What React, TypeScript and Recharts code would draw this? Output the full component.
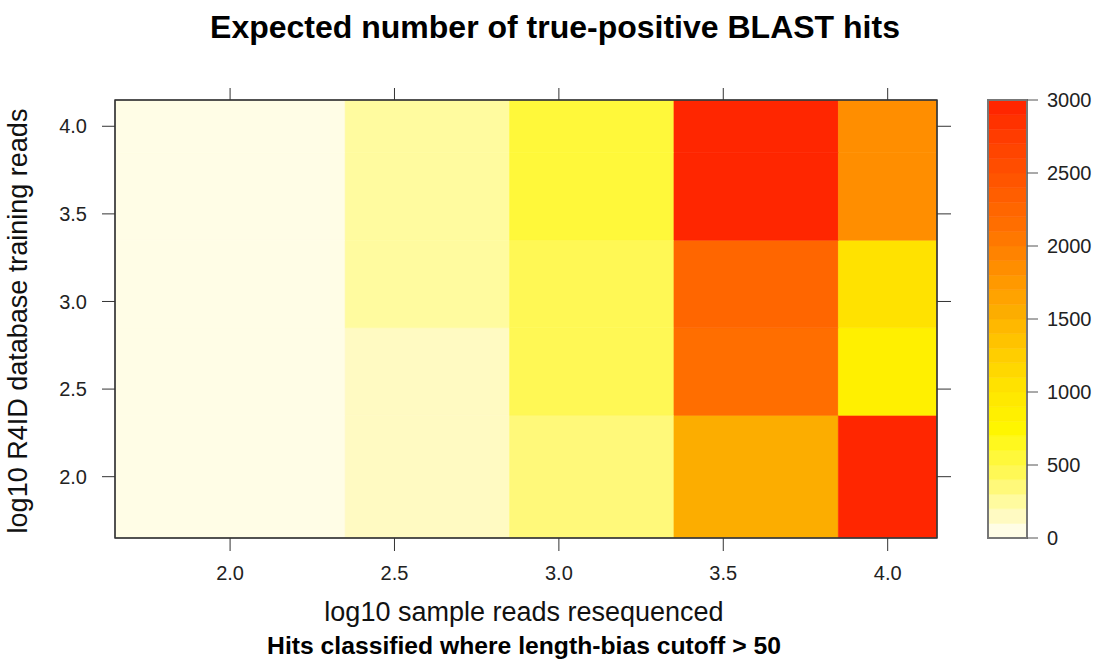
import React from 'react';
import { ComposedChart, XAxis, YAxis, ReferenceArea, Scatter } from 'recharts';

// log10 sample reads resequenced (cell centres along x)
const xValues = [2.0, 2.7, 3.0, 3.7, 4.0];
// log10 R4ID database training reads (cell centres along y)
const yValues = [2.0, 2.7, 3.0, 3.7, 4.0];

// expected true-positive hits, one array per y row (values follow xValues)
const hitsAtY20 = [50, 150, 350, 1550, 2950];
const hitsAtY27 = [50, 150, 450, 2180, 850];
const hitsAtY30 = [50, 250, 450, 2280, 1050];
const hitsAtY37 = [50, 250, 550, 2950, 1850];
const hitsAtY40 = [50, 250, 550, 2950, 1850];
const hitRows = [hitsAtY20, hitsAtY27, hitsAtY30, hitsAtY37, hitsAtY40];

const axisTicks = [2.0, 2.5, 3.0, 3.5, 4.0];
const keyTicks = [0, 500, 1000, 1500, 2000, 2500, 3000];
const keyBreaks = [0, 100, 200, 300, 400, 500, 600, 700, 800, 900, 1000, 1100, 1200, 1300, 1400, 1500,
  1600, 1700, 1800, 1900, 2000, 2100, 2200, 2300, 2400, 2500, 2600, 2700, 2800, 2900, 3000];

const palette = [
  '#FFFDE6', '#FFFAC2', '#FFFB9F', '#FFF97A', '#FFF855', '#FFF83A', '#FFF81E', '#FFF600',
  '#FFF000', '#FFE900', '#FFE200', '#FFD800', '#FFCE00', '#FFC300', '#FFB800', '#FCAD00',
  '#FFA300', '#FF9900', '#FF8E00', '#FF8300', '#FF7800', '#FF6E00', '#FF6600', '#FF5E00',
  '#FF5500', '#FF4D00', '#FF4500', '#FF3C00', '#FF3200', '#FF2600',
];

const FONT = '"Liberation Sans", Arial, Helvetica, sans-serif';

const colorFor = (v: number) => {
  for (let i = 0; i < keyBreaks.length - 1; i++) {
    if (v >= keyBreaks[i] && v < keyBreaks[i + 1]) return palette[i];
  }
  return palette[palette.length - 1];
};

// cell edges: midpoints between centres, edges extended by half a step
const edges = (c: number[]) => {
  const e: number[] = [];
  e.push(c[0] - (c[1] - c[0]) / 2);
  for (let i = 0; i < c.length - 1; i++) e.push((c[i] + c[i + 1]) / 2);
  e.push(c[c.length - 1] + (c[c.length - 1] - c[c.length - 2]) / 2);
  return e;
};
const xEdges = edges(xValues);
const yEdges = edges(yValues);
const domainX: [number, number] = [xEdges[0], xEdges[xEdges.length - 1]];
const domainY: [number, number] = [yEdges[0], yEdges[yEdges.length - 1]];

const cells: { x1: number; x2: number; y1: number; y2: number; fill: string }[] = [];
hitRows.forEach((row, j) => {
  row.forEach((v, i) => {
    cells.push({ x1: xEdges[i], x2: xEdges[i + 1], y1: yEdges[j], y2: yEdges[j + 1], fill: colorFor(v) });
  });
});
const centres = hitRows.flatMap((row, j) => row.map((v, i) => ({ x: xValues[i], y: yValues[j], z: v })));
const keyData = keyBreaks.map((b) => ({ k: 0.5, v: b }));

const tickStyle = { fontSize: 20, fill: '#222', fontFamily: FONT };
const fmt = (v: number) => v.toFixed(1);
const noLabel = () => <g />;

export default function App() {
  return (
    <div style={{ position: 'absolute', left: 0, top: 0, width: 1099, height: 663, background: '#fff' }}>
      <div style={{ position: 'absolute', left: 0, top: 0 }}>
        <ComposedChart width={1099} height={663} data={centres} margin={{ top: 87, right: 148, bottom: 65, left: 40 }}>
          <XAxis
            xAxisId="b"
            type="number"
            dataKey="x"
            domain={domainX}
            allowDataOverflow
            ticks={axisTicks}
            interval={0}
            tickFormatter={fmt}
            orientation="bottom"
            height={60}
            tickSize={13}
            tickMargin={15}
            stroke="#333"
            tick={tickStyle}
            label={(props: any) => {
              const vb = props.viewBox || { x: 115, y: 538, width: 822 };
              const cx = vb.x + vb.width / 2 - 2;
              return (
                <g>
                  <text x={cx} y={vb.y + 83} textAnchor="middle" fontSize={27} fontFamily={FONT} fill="#111">
                    log10 sample reads resequenced
                  </text>
                  <text x={cx} y={vb.y + 116} textAnchor="middle" fontSize={24.7} fontWeight="bold" fontFamily={FONT} fill="#000">
                    {'Hits classified where length-bias cutoff > 50'}
                  </text>
                </g>
              );
            }}
          />
          <XAxis
            xAxisId="t"
            type="number"
            dataKey="x"
            domain={domainX}
            allowDataOverflow
            ticks={axisTicks}
            interval={0}
            tick={noLabel}
            orientation="top"
            height={13}
            tickSize={12}
            stroke="#333"
            label={(props: any) => {
              const vb = props.viewBox || { x: 115, y: 87, width: 822 };
              return (
                <text x={vb.x + vb.width / 2 + 29} y={38} textAnchor="middle" fontSize={32} fontWeight="bold" fontFamily={FONT} fill="#000">
                  Expected number of true-positive BLAST hits
                </text>
              );
            }}
          />
          <YAxis
            yAxisId="l"
            type="number"
            dataKey="y"
            domain={domainY}
            allowDataOverflow
            ticks={axisTicks}
            interval={0}
            tickFormatter={fmt}
            orientation="left"
            width={75}
            tickSize={13}
            tickMargin={15}
            stroke="#333"
            tick={tickStyle}
            label={(props: any) => {
              const vb = props.viewBox || { x: 40, y: 100, height: 438 };
              const cy = vb.y + vb.height / 2 + 2;
              return (
                <text x={27} y={cy} transform={`rotate(-90, 27, ${cy})`} textAnchor="middle" fontSize={27} fontFamily={FONT} fill="#111">
                  log10 R4ID database training reads
                </text>
              );
            }}
          />
          <YAxis
            yAxisId="r"
            type="number"
            dataKey="y"
            domain={domainY}
            allowDataOverflow
            ticks={axisTicks}
            interval={0}
            tick={noLabel}
            orientation="right"
            width={14}
            tickSize={14}
            stroke="#333"
          />
          {cells.map((c, k) => (
            <ReferenceArea
              key={k}
              xAxisId="b"
              yAxisId="l"
              x1={c.x1}
              x2={c.x2}
              y1={c.y1}
              y2={c.y2}
              fill={c.fill}
              fillOpacity={1}
              stroke={c.fill}
              strokeWidth={0.6}
              ifOverflow="hidden"
            />
          ))}
          <ReferenceArea
            xAxisId="b"
            yAxisId="l"
            x1={domainX[0]}
            x2={domainX[1]}
            y1={domainY[0]}
            y2={domainY[1]}
            fill="none"
            fillOpacity={0}
            stroke="#444"
            strokeWidth={1.5}
            ifOverflow="visible"
          />
        </ComposedChart>
      </div>
      <div style={{ position: 'absolute', left: 0, top: 0 }}>
        <ComposedChart width={1099} height={663} data={keyData} margin={{ top: 100, right: 12, bottom: 125, left: 988 }}>
          <XAxis xAxisId="k" type="number" dataKey="k" domain={[0, 1]} hide />
          <YAxis
            yAxisId="k"
            type="number"
            dataKey="v"
            domain={[keyBreaks[0], keyBreaks[keyBreaks.length - 1]]}
            ticks={keyTicks}
            interval={0}
            orientation="right"
            width={60}
            tickSize={11}
            tickMargin={9}
            stroke="#555"
            axisLine={false}
            tick={tickStyle}
          />
          <Scatter xAxisId="k" yAxisId="k" dataKey="v" fill="none" shape={() => <g />} isAnimationActive={false} />
          {keyBreaks.slice(0, -1).map((b, i) => (
            <ReferenceArea
              key={i}
              xAxisId="k"
              yAxisId="k"
              x1={0}
              x2={1}
              y1={b}
              y2={keyBreaks[i + 1]}
              fill={palette[i]}
              fillOpacity={1}
              stroke={palette[i]}
              strokeWidth={0.6}
              ifOverflow="hidden"
            />
          ))}
          <ReferenceArea
            xAxisId="k"
            yAxisId="k"
            x1={0}
            x2={1}
            y1={keyBreaks[0]}
            y2={keyBreaks[keyBreaks.length - 1]}
            fill="none"
            fillOpacity={0}
            stroke="#777"
            strokeWidth={2}
            ifOverflow="visible"
          />
        </ComposedChart>
      </div>
    </div>
  );
}
